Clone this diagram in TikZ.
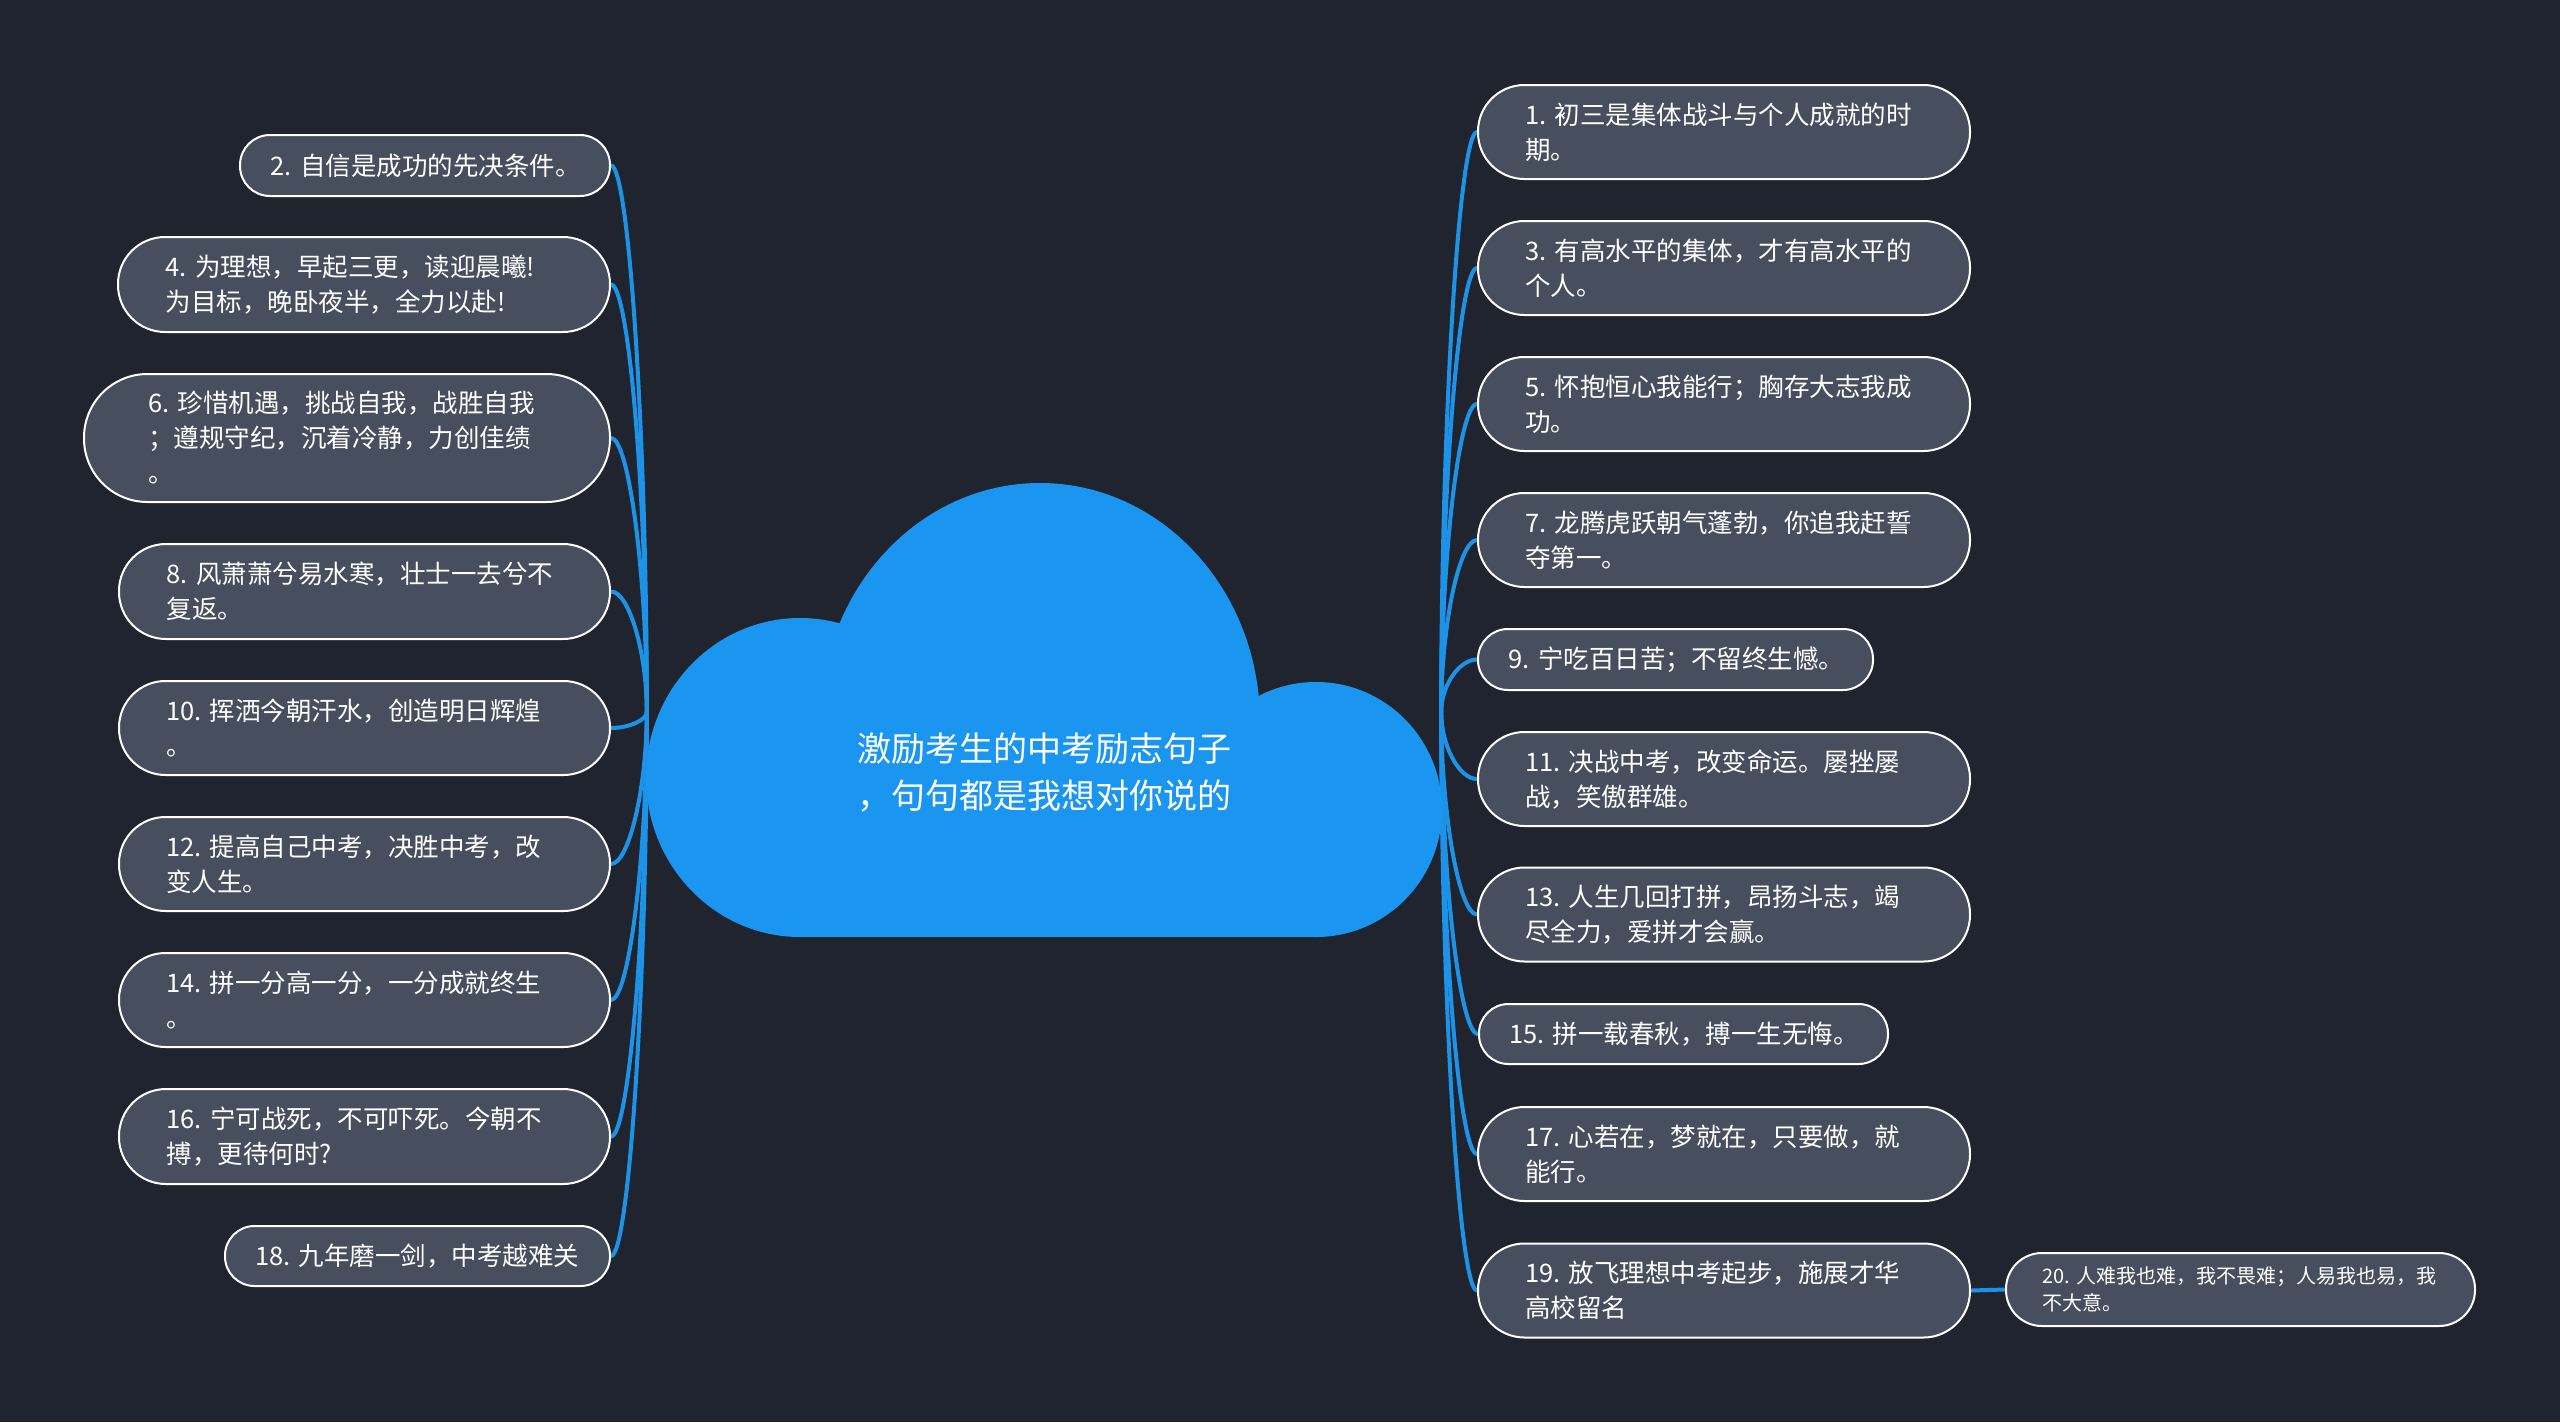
\documentclass[tikz,border=0pt]{standalone}
\usepackage{fontspec}
\setmainfont{Noto Sans CJK SC}
\usetikzlibrary{calc}
\definecolor{bgc}{HTML}{20242F}
\definecolor{nodefill}{HTML}{474E5D}
\definecolor{cloudblue}{HTML}{1A96F0}
\definecolor{linkblue}{HTML}{1D93E8}
\pgfdeclarelayer{back}
\pgfdeclarelayer{links}
\pgfsetlayers{back,links,main}
\tikzset{
  leaf/.style={draw=white, line width=2pt, fill=nodefill, text=white, align=left,
    inner sep=0pt, font=\fontsize{25.5pt}{35pt}\selectfont},
  wide/.style={leaf, minimum width=492pt, minimum height=94pt, text width=398pt, rounded corners=46.5pt},
  link/.style={draw=linkblue, line width=4pt, line cap=round},
}
\newcommand\conn[2]{\draw[link] let \p1=(#1), \p2=(#2) in
  (\p1) .. controls (\x1,{\y1+0.5*(\y2-\y1)}) and ({\x2+0.5*(\x1-\x2)},\y2) .. (\p2);}
\begin{document}
\begin{tikzpicture}[x=1pt,y=1pt]
\begin{pgfonlayer}{back}
  \fill[bgc] (0,0) rectangle (2560,-1422);
\end{pgfonlayer}
\useasboundingbox (0,0) rectangle (2560,-1422);

% cloud
\begin{scope}
  \clip (600,-400) rectangle (1500,-925);
  \fill[cloudblue] (1040,-722) ellipse[x radius=220, y radius=239];
\end{scope}
\fill[cloudblue] (800,-777.5) ellipse[x radius=154, y radius=159.5];
\fill[cloudblue] (1316,-809.5) ellipse[x radius=126, y radius=127.5];
\fill[cloudblue] (800,-700) rectangle (1316,-937);
\node[minimum width=794pt, minimum height=10pt, inner sep=0pt] (root) at (1044,-712) {};
\node[text=white, align=left, font=\fontsize{34pt}{47pt}\selectfont] (title) at (1044,-772)
  {激励考生的中考励志句子\\，句句都是我想对你说的};

% left nodes
\node[leaf, minimum width=370pt, minimum height=61pt, text width=309pt, rounded corners=30pt] (n2) at (425,-165.5) {2.~自信是成功的先决条件。};
\node[leaf, minimum width=492pt, minimum height=95pt, text width=397pt, rounded corners=47pt] (n4) at (364,-284.5) {4.~为理想，早起三更，读迎晨曦!\\为目标，晚卧夜半，全力以赴!};
\node[leaf, minimum width=526pt, minimum height=128pt, text width=398pt, rounded corners=63.5pt] (n6) at (347,-438) {6.~珍惜机遇，挑战自我，战胜自我\\；遵规守纪，沉着冷静，力创佳绩\\。};
\node[leaf, minimum width=491pt, minimum height=95pt, text width=396pt, rounded corners=47pt] (n8) at (364.5,-591.5) {8.~风萧萧兮易水寒，壮士一去兮不\\复返。};
\node[leaf, minimum width=491pt, minimum height=94pt, text width=397pt, rounded corners=46.5pt] (n10) at (364.5,-728) {10.~挥洒今朝汗水，创造明日辉煌\\。};
\node[leaf, minimum width=491pt, minimum height=94pt, text width=397pt, rounded corners=46.5pt] (n12) at (364.5,-864) {12.~提高自己中考，决胜中考，改\\变人生。};
\node[leaf, minimum width=491pt, minimum height=94pt, text width=397pt, rounded corners=46.5pt] (n14) at (364.5,-1000) {14.~拼一分高一分，一分成就终生\\。};
\node[leaf, minimum width=491pt, minimum height=95pt, text width=396pt, rounded corners=47pt] (n16) at (364.5,-1136.5) {16.~宁可战死，不可吓死。今朝不\\搏，更待何时?};
\node[leaf, minimum width=385pt, minimum height=60pt, text width=325pt, rounded corners=29.5pt] (n18) at (417.5,-1256) {18.~九年磨一剑，中考越难关};

% right nodes
\node[wide] (n1) at (1724,-132) {1.~初三是集体战斗与个人成就的时\\期。};
\node[wide] (n3) at (1724,-268) {3.~有高水平的集体，才有高水平的\\个人。};
\node[wide] (n5) at (1724,-404) {5.~怀抱恒心我能行；胸存大志我成\\功。};
\node[wide] (n7) at (1724,-540) {7.~龙腾虎跃朝气蓬勃，你追我赶誓\\夺第一。};
\node[leaf, minimum width=395pt, minimum height=61pt, text width=334pt, rounded corners=30pt] (n9) at (1675.5,-659.5) {9.~宁吃百日苦；不留终生憾。};
\node[wide] (n11) at (1724,-779) {11.~决战中考，改变命运。屡挫屡\\战，笑傲群雄。};
\node[wide] (n13) at (1724,-914.5) {13.~人生几回打拼，昂扬斗志，竭\\尽全力，爱拼才会赢。};
\node[leaf, minimum width=409pt, minimum height=60pt, text width=349pt, rounded corners=29.5pt] (n15) at (1683.5,-1034) {15.~拼一载春秋，搏一生无悔。};
\node[wide] (n17) at (1724,-1154) {17.~心若在，梦就在，只要做，就\\能行。};
\node[wide] (n19) at (1724,-1290.5) {19.~放飞理想中考起步，施展才华\\高校留名};
\node[leaf, minimum width=469pt, minimum height=73pt, text width=396pt, rounded corners=36pt,
  font=\fontsize{20pt}{27pt}\selectfont] (n20) at (2240.5,-1289.5) {20.~人难我也难，我不畏难；人易我也易，我\\不大意。};

\begin{pgfonlayer}{links}
  \foreach \nm in {n2,n4,n6,n8,n10,n12,n14,n16,n18} {\conn{root.west}{\nm.east}}
  \foreach \nm in {n1,n3,n5,n7,n9,n11,n13,n15,n17,n19} {\conn{root.east}{\nm.west}}
  \draw[link] (n19.east) -- (n20.west);
\end{pgfonlayer}
\end{tikzpicture}
\end{document}
